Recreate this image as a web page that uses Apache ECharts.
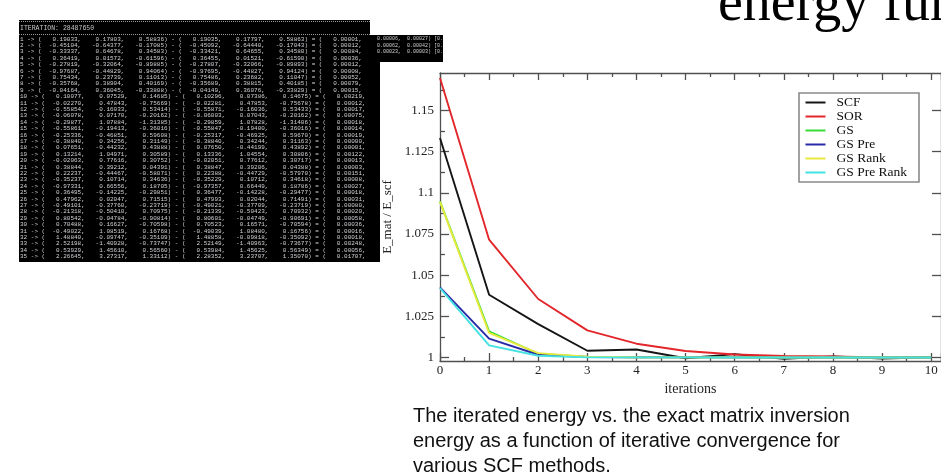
<!DOCTYPE html>
<html>
<head>
<meta charset="utf-8">
<script src="https://cdn.jsdelivr.net/npm/echarts@6/dist/echarts.min.js"></script>
<style>
html,body{margin:0;padding:0;background:#fff;}
#chart{width:941px;height:472px;}
</style>
</head>
<body>
<div id="chart"></div>
<script>
// ---- chart data ----
const iterations = [0, 1, 2, 3, 4, 5, 6, 7, 8, 9, 10];
const scf       = [1.1333, 1.0382, 1.0204, 1.0042, 1.0050, 0.9997, 1.0022, 0.9994, 1.0008, 0.9995, 1.0003];
const sor       = [1.1697, 1.0716, 1.0356, 1.0166, 1.0085, 1.0041, 1.0019, 1.0010, 1.0007, 1.0002, 1.0002];
const gs        = [1.0948, 1.0160, 1.0024, 1.0005, 1.0003, 1.0002, 1.0002, 1.0001, 1.0001, 1.0001, 1.0001];
const gsPre     = [1.0427, 1.0116, 1.0018, 1.0004, 1.0003, 1.0002, 1.0002, 1.0001, 1.0001, 1.0001, 1.0001];
const gsRank    = [1.0945, 1.0150, 1.0028, 1.0006, 1.0003, 1.0002, 1.0002, 1.0001, 1.0001, 1.0001, 1.0001];
const gsPreRank = [1.0422, 1.0075, 1.0012, 1.0002, 1.0002, 1.0002, 1.0001, 1.0001, 1.0001, 1.0001, 1.0001];
const seriesNames = ['SCF', 'SOR', 'GS', 'GS Pre', 'GS Rank', 'GS Pre Rank'];
const yTickValues = [1, 1.025, 1.05, 1.075, 1.1, 1.125, 1.15];
const yMinorValues = [1.0125, 1.0375, 1.0625, 1.0875, 1.1125, 1.1375, 1.1625];
const xAxisName = 'iterations';
const yAxisName = 'E_mat / E_scf';
const titleText = 'energy function';
const captionLines = [
  'The iterated energy vs. the exact matrix inversion',
  'energy as a function of iterative convergence for',
  'various SCF methods.'
];

// ---- terminal screenshot text ----
const termHeader = 'ITERATION: 28487650';
const termRows = [
  [0.19033, 0.17803, 0.58836, 0.19035, 0.17797, 0.58863, 0.00001],
  [-0.45104, -0.64377, -0.17085, -0.45092, -0.64440, -0.17043, 0.00012],
  [-0.33337, 0.64678, 0.34583, -0.33421, 0.64655, 0.34580, 0.00084],
  [0.36419, 0.01572, -0.61596, 0.36455, 0.01521, -0.61590, 0.00036],
  [-0.27819, -0.32064, -0.89885, -0.27807, -0.32066, -0.89893, 0.00012],
  [-0.97687, -0.44829, 0.94064, -0.97695, -0.44827, 0.94124, 0.00008],
  [0.75434, 0.23739, 0.11013, 0.75486, 0.23682, 0.11047, 0.00052],
  [-0.35768, 0.38904, 0.40169, -0.35689, 0.38815, 0.40185, 0.00079],
  [-0.04164, 0.36045, -0.33808, -0.04149, 0.36076, -0.33829, 0.00015],
  [0.10077, 0.07529, 0.14685, 0.10296, 0.07386, 0.14675, 0.00219],
  [-0.02270, 0.47843, -0.75669, -0.02281, 0.47853, -0.75678, 0.00012],
  [-0.55854, -0.16033, 0.53414, -0.55871, -0.16036, 0.53433, 0.00017],
  [-0.06078, 0.07170, -0.20162, -0.06003, 0.07043, -0.20162, 0.00075],
  [-0.29877, 1.07884, -1.31385, -0.29859, 1.07828, -1.31406, 0.00018],
  [-0.55861, -0.19413, -0.36016, -0.55847, -0.19400, -0.36016, 0.00014],
  [-0.25336, -0.46851, 0.59608, -0.25317, -0.46925, 0.59670, 0.00019],
  [-0.38840, 0.34256, 0.31149, -0.38840, 0.34244, 0.31163, 0.00000],
  [0.07651, -0.44232, 0.43888, 0.07650, -0.44199, 0.43892, 0.00001],
  [0.13214, 1.04971, 0.30589, 0.13336, 1.04554, 0.30806, 0.00122],
  [-0.02063, 0.77616, 0.30752, -0.02051, 0.77612, 0.30717, 0.00013],
  [0.38844, 0.39212, 0.04391, 0.38847, 0.39206, 0.04388, 0.00003],
  [0.22237, -0.44467, -0.58071, 0.22388, -0.44729, -0.57970, 0.00151],
  [-0.35237, 0.10714, 0.34636, -0.35229, 0.10712, 0.34618, 0.00008],
  [-0.97331, 0.66556, 0.18705, -0.97357, 0.66449, 0.18786, 0.00027],
  [0.36495, -0.14225, -0.29851, 0.36477, -0.14228, -0.29477, 0.00018],
  [0.47962, 0.02047, 0.71515, 0.47993, 0.02044, 0.71491, 0.00031],
  [-0.49101, -0.37760, -0.23719, -0.49021, -0.37709, -0.23719, 0.00080],
  [-0.21318, -0.50410, 0.70975, -0.21339, -0.50423, 0.70932, 0.00020],
  [0.80542, -0.04784, -0.90814, 0.80601, -0.04749, -0.90691, 0.00058],
  [0.70488, 0.16627, -0.70598, 0.70523, 0.16571, -0.70594, 0.00036],
  [-0.49022, 1.08519, 0.16768, -0.49039, 1.08480, 0.16756, 0.00016],
  [1.48840, -0.09747, -0.35109, 1.48858, -0.09818, -0.35092, 0.00018],
  [2.52198, -1.40928, -0.73747, 2.52149, -1.40963, -0.73677, 0.00248],
  [0.53929, 1.45610, 0.56560, 0.53984, 1.45625, 0.56349, 0.00056],
  [2.26645, 3.27317, 1.33112, 2.28352, 3.23707, 1.35070, 0.01707]
];
const termTails = [
  '0.00006,  0.00027) [0.001]',
  '0.00062,  0.00042) [0.001]',
  '0.00023,  0.00003) [0.001]'
];

function f(v) { return v.toFixed(5).padStart(10, ' '); }
function termLine(i, r) {
  return (i + 1) + ' -> (' + f(r[0]) + ', ' + f(r[1]) + ', ' + f(r[2]) + ') - (' +
         f(r[3]) + ', ' + f(r[4]) + ', ' + f(r[5]) + ') = (' + f(r[6]) + ',';
}

const serif = 'Liberation Serif, Times New Roman, serif';
const colors = ['#151515', '#e2262a', '#35dc35', '#2a2aa6', '#e9e93e', '#44e2e2'];
const allData = [scf, sor, gs, gsPre, gsRank, gsPreRank];

const graphic = [];
// terminal background
graphic.push({ type: 'rect', z: 0, shape: { x: 19, y: 20, width: 351, height: 15 }, style: { fill: '#000' } });
graphic.push({ type: 'rect', z: 0, shape: { x: 19, y: 35, width: 424, height: 27 }, style: { fill: '#000' } });
graphic.push({ type: 'rect', z: 0, shape: { x: 19, y: 62, width: 361, height: 200 }, style: { fill: '#000' } });
graphic.push({ type: 'line', z: 1, shape: { x1: 19, y1: 21.5, x2: 370, y2: 21.5 }, style: { stroke: '#9a9a9a', lineWidth: 1, lineDash: [1, 1] } });
graphic.push({ type: 'line', z: 1, shape: { x1: 19, y1: 34.5, x2: 370, y2: 34.5 }, style: { stroke: '#9a9a9a', lineWidth: 1, lineDash: [1, 1] } });
graphic.push({ type: 'text', z: 1, x: 20, y: 28, style: { text: termHeader, fill: '#c8c8c8', font: '6.5px "Liberation Mono", monospace', verticalAlign: 'middle' } });
termRows.forEach((r, i) => {
  graphic.push({ type: 'text', z: 1, x: 20, y: 39 + i * 6.4, style: { text: termLine(i, r), fill: '#d2d2d6', font: '6px "Liberation Mono", monospace', verticalAlign: 'middle' } });
});
termTails.forEach((t, i) => {
  graphic.push({ type: 'text', z: 1, x: 377, y: 39 + i * 6.4, style: { text: t, fill: '#d2d2d6', font: '5px "Liberation Mono", monospace', verticalAlign: 'middle' } });
});
// white cover that crops the terminal on the right
graphic.push({ type: 'rect', z: 2, shape: { x: 443, y: 35, width: 200, height: 27 }, style: { fill: '#fff' } });
// title
graphic.push({ type: 'text', z: 1, x: 718, y: 5, style: { text: titleText, fill: '#000', font: '56px "Liberation Serif", serif', verticalAlign: 'middle' } });
// caption
captionLines.forEach((t, i) => {
  graphic.push({ type: 'text', z: 1, x: 413, y: 416 + i * 25, style: { text: t, fill: '#111', font: '20px "Liberation Sans", Arial, sans-serif', verticalAlign: 'middle' } });
});

const axisLineStyle = { color: '#505050', width: 1.3 };
const xMin = 0, xMax = 10.2, yMin = 0.998, yMax = 1.1727;

const option = {
  animation: false,
  backgroundColor: '#fff',
  graphic: graphic,
  grid: { left: 440, top: 73, width: 506, height: 288, containLabel: false },
  legend: {
    data: seriesNames,
    orient: 'vertical',
    left: 799, top: 93,
    padding: [2.5, 12, 2.5, 6.5],
    itemGap: 0,
    itemWidth: 20, itemHeight: 2,
    icon: 'rect',
    backgroundColor: '#fff',
    borderColor: '#8a8a8a', borderWidth: 1.6, borderRadius: 0,
    textStyle: { fontFamily: serif, fontSize: 13.5, color: '#111', lineHeight: 12.2, padding: [0, 0, 0, 6] }
  },
  xAxis: [
    {
      type: 'value', min: xMin, max: xMax, interval: 1, position: 'bottom',
      name: xAxisName, nameLocation: 'middle', nameGap: 15,
      nameTextStyle: { fontFamily: serif, fontSize: 14, color: '#222' },
      axisLine: { show: true, lineStyle: axisLineStyle },
      axisTick: { show: true, inside: true, length: 8, lineStyle: axisLineStyle },
      minorTick: { show: true, splitNumber: 2, length: 4, lineStyle: axisLineStyle },
      axisLabel: { margin: 3, fontFamily: serif, fontSize: 13, color: '#222', showMaxLabel: false,
        formatter: v => Number.isInteger(v) ? String(v) : '' },
      splitLine: { show: false }
    },
    {
      type: 'value', min: xMin, max: xMax, interval: 1, position: 'top',
      axisLine: { show: true, onZero: false, lineStyle: axisLineStyle },
      axisTick: { show: true, inside: true, length: 7, lineStyle: axisLineStyle },
      minorTick: { show: true, splitNumber: 2, length: 4, lineStyle: axisLineStyle },
      axisLabel: { show: false },
      splitLine: { show: false }
    }
  ],
  yAxis: [
    {
      type: 'value', min: yMin, max: yMax, position: 'left',
      name: yAxisName, nameLocation: 'middle', nameGap: 35,
      nameTextStyle: { fontFamily: serif, fontSize: 13, color: '#222' },
      axisLine: { show: true, onZero: false, lineStyle: axisLineStyle },
      axisTick: { show: true, inside: true, length: 9, customValues: yTickValues, lineStyle: axisLineStyle },
      axisLabel: { margin: 6, fontFamily: serif, fontSize: 13, color: '#222', customValues: yTickValues,
        formatter: v => String(v) },
      splitLine: { show: false }
    },
    {
      type: 'value', min: yMin, max: yMax, position: 'left', offset: 0,
      axisLine: { show: false },
      axisTick: { show: true, inside: true, length: 5, customValues: yMinorValues, lineStyle: axisLineStyle },
      axisLabel: { show: false },
      splitLine: { show: false }
    },
    {
      type: 'value', min: yMin, max: yMax, position: 'right', offset: 0,
      axisLine: { show: true, onZero: false, lineStyle: axisLineStyle },
      axisTick: { show: true, inside: true, length: 9, customValues: yTickValues, lineStyle: axisLineStyle },
      axisLabel: { show: false },
      splitLine: { show: false }
    }
  ],
  series: seriesNames.map((name, k) => ({
    name: name,
    type: 'line',
    xAxisIndex: 0, yAxisIndex: 0,
    data: iterations.map((x, i) => [x, allData[k][i]]),
    showSymbol: false, symbol: 'none',
    color: colors[k],
    lineStyle: { color: colors[k], width: 1.9 },
    z: 3 + k
  }))
};

const chart = echarts.init(document.getElementById('chart'), null, { renderer: 'canvas' });
chart.setOption(option);
</script>
</body>
</html>
